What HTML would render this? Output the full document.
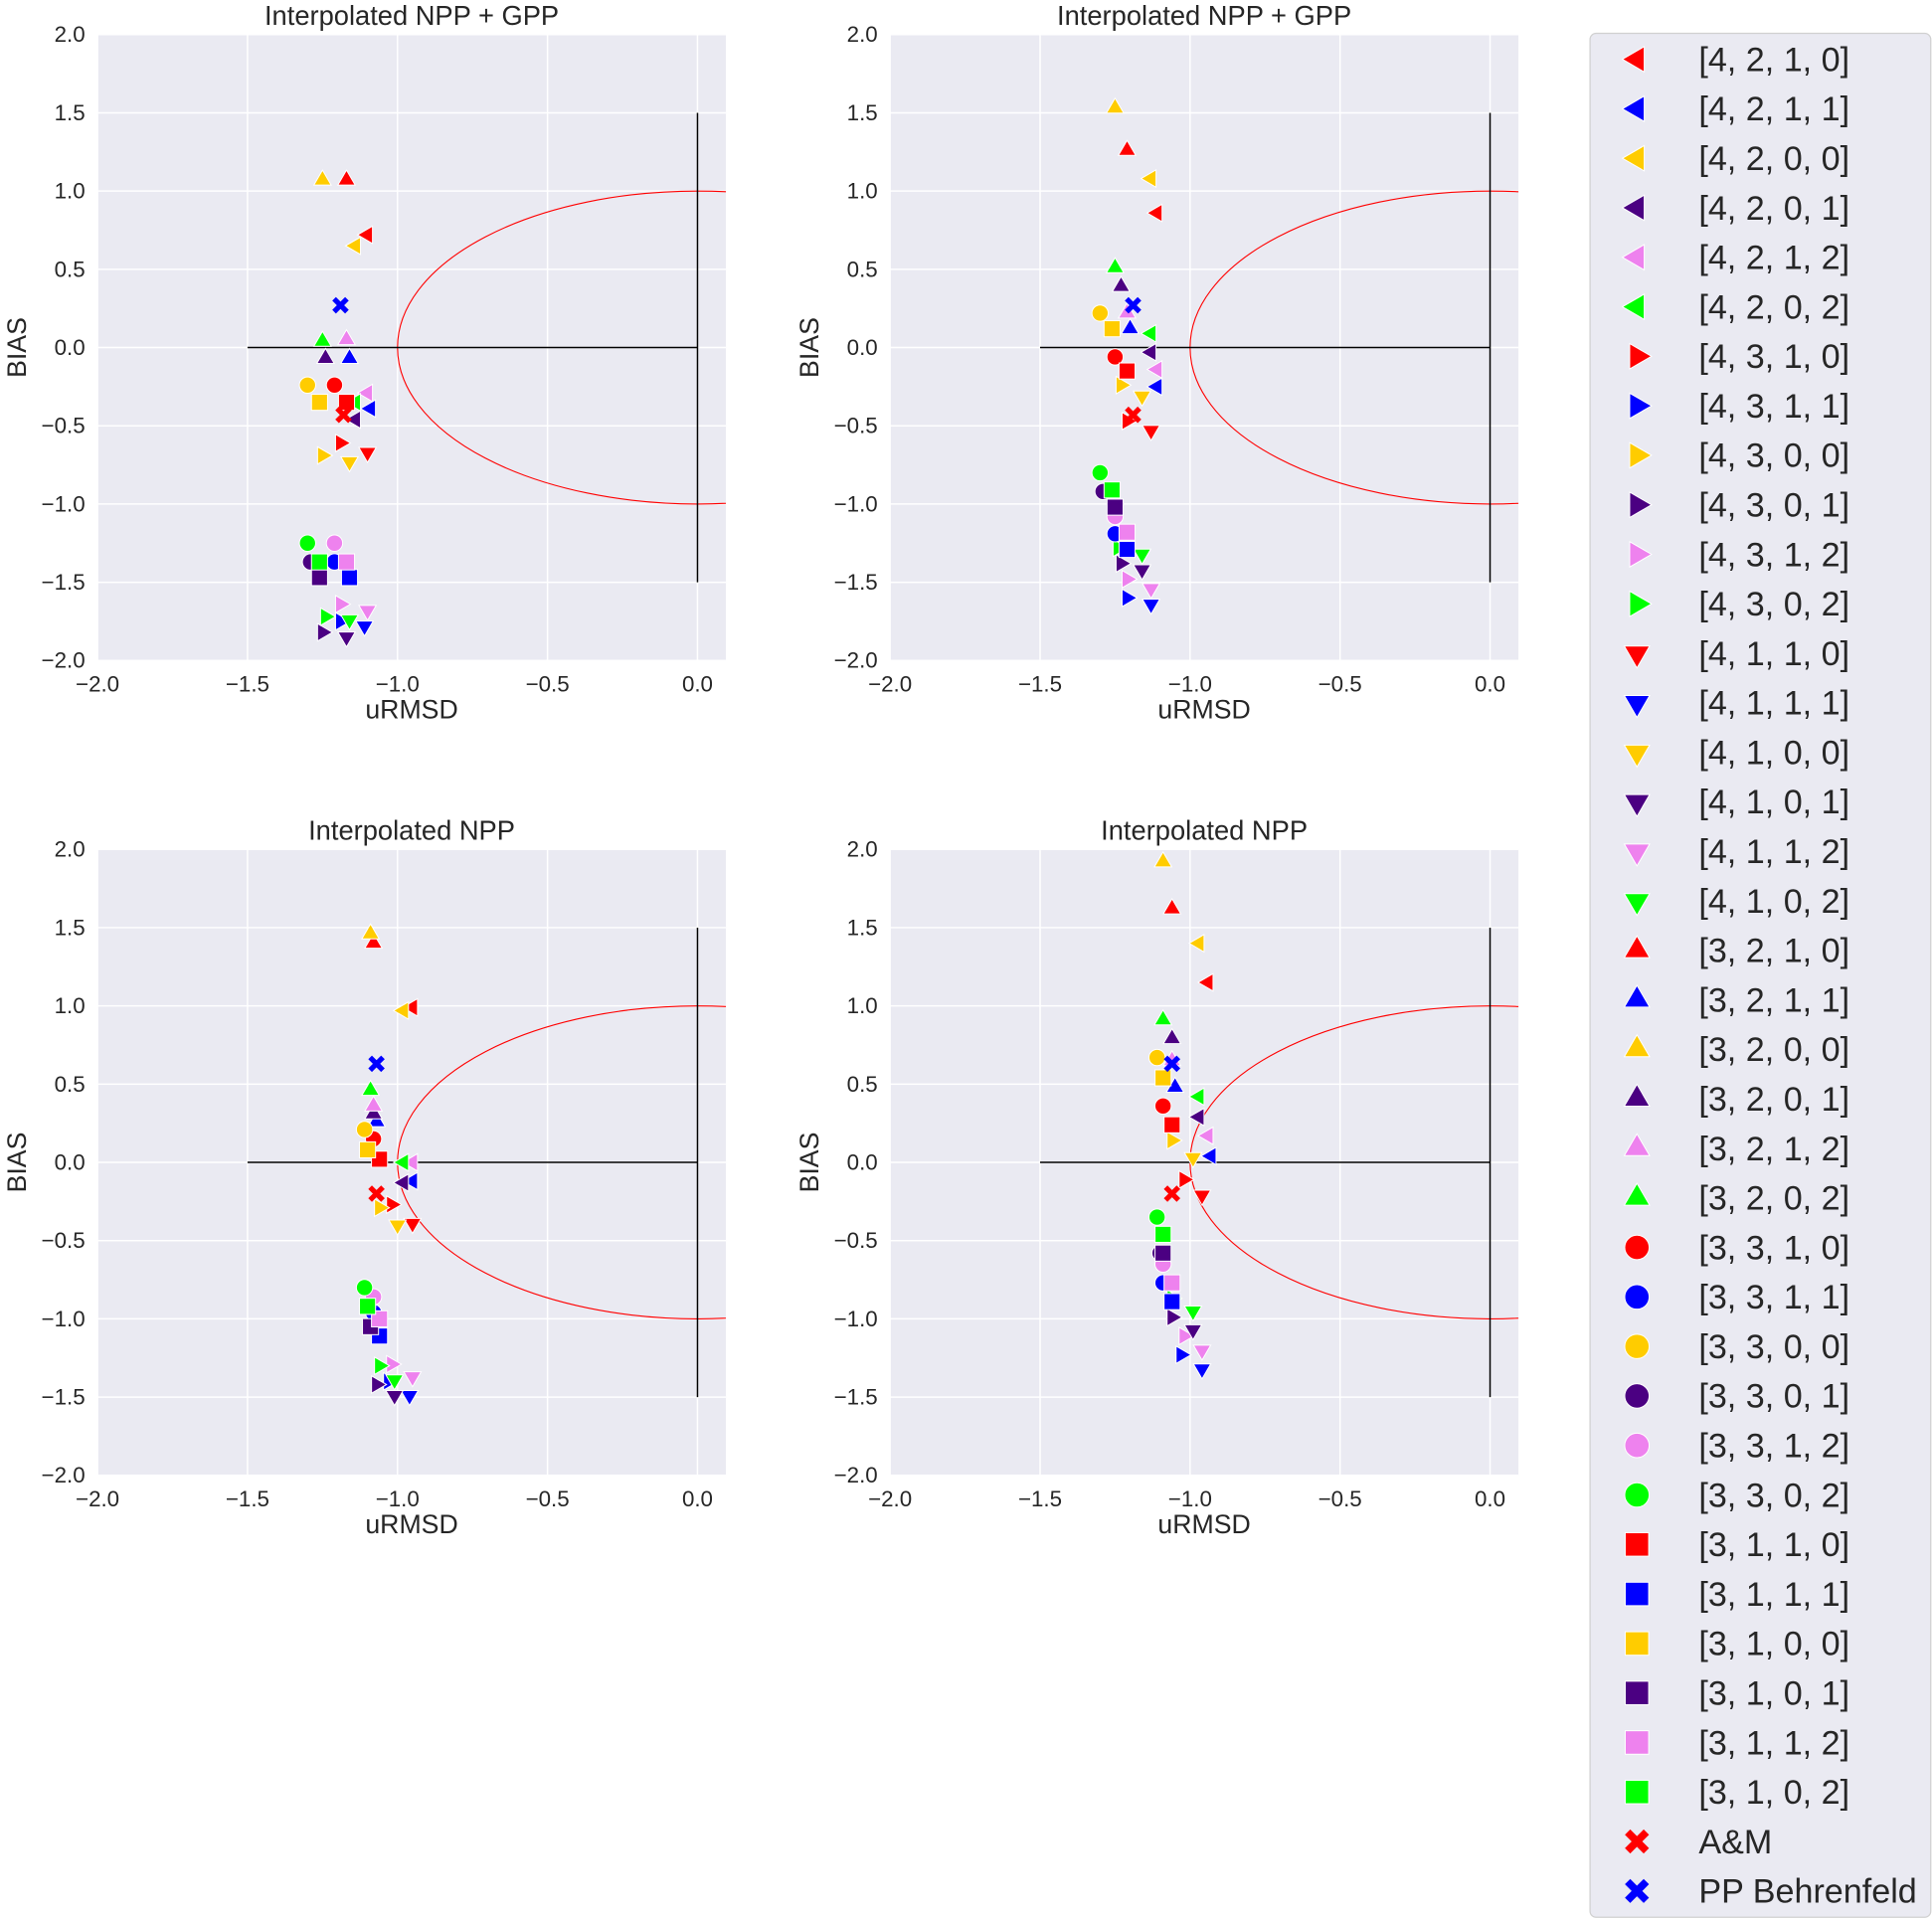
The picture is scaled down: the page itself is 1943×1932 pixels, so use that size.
<!DOCTYPE html>
<html><head><meta charset="utf-8"><style>
html,body{margin:0;padding:0;background:#fff;}
svg{display:block;font-family:"Liberation Sans",sans-serif;}
</style></head><body>
<svg id="chart" width="1943" height="1932" viewBox="0 0 1565 1556" preserveAspectRatio="none" xmlns="http://www.w3.org/2000/svg"></svg>
<script>
const seriesLabels=["[4, 2, 1, 0]","[4, 2, 1, 1]","[4, 2, 0, 0]","[4, 2, 0, 1]","[4, 2, 1, 2]","[4, 2, 0, 2]","[4, 3, 1, 0]","[4, 3, 1, 1]","[4, 3, 0, 0]","[4, 3, 0, 1]","[4, 3, 1, 2]","[4, 3, 0, 2]","[4, 1, 1, 0]","[4, 1, 1, 1]","[4, 1, 0, 0]","[4, 1, 0, 1]","[4, 1, 1, 2]","[4, 1, 0, 2]","[3, 2, 1, 0]","[3, 2, 1, 1]","[3, 2, 0, 0]","[3, 2, 0, 1]","[3, 2, 1, 2]","[3, 2, 0, 2]","[3, 3, 1, 0]","[3, 3, 1, 1]","[3, 3, 0, 0]","[3, 3, 0, 1]","[3, 3, 1, 2]","[3, 3, 0, 2]","[3, 1, 1, 0]","[3, 1, 1, 1]","[3, 1, 0, 0]","[3, 1, 0, 1]","[3, 1, 1, 2]","[3, 1, 0, 2]","A&M","PP Behrenfeld"];
const panelTitles=["Interpolated NPP + GPP","Interpolated NPP + GPP","Interpolated NPP","Interpolated NPP"];
const xTicks=[-2.0,-1.5,-1.0,-0.5,0.0];
const yTicks=[2.0,1.5,1.0,0.5,0.0,-0.5,-1.0,-1.5,-2.0];
const tlX=[-1.10,-1.09,-1.14,-1.14,-1.10,-1.14,-1.19,-1.19,-1.25,-1.25,-1.19,-1.24,-1.10,-1.11,-1.16,-1.17,-1.10,-1.16,-1.17,-1.16,-1.25,-1.24,-1.17,-1.25,-1.21,-1.21,-1.30,-1.29,-1.21,-1.30,-1.17,-1.16,-1.26,-1.26,-1.17,-1.26,-1.18,-1.19];
const tlY=[0.72,-0.39,0.65,-0.46,-0.29,-0.35,-0.61,-1.75,-0.69,-1.82,-1.64,-1.72,-0.67,-1.78,-0.73,-1.85,-1.68,-1.74,1.07,-0.07,1.07,-0.07,0.05,0.04,-0.24,-1.37,-0.24,-1.37,-1.25,-1.25,-0.35,-1.47,-0.35,-1.47,-1.37,-1.37,-0.43,0.27];
const trX=[-1.11,-1.11,-1.13,-1.13,-1.11,-1.13,-1.21,-1.21,-1.23,-1.23,-1.21,-1.24,-1.13,-1.13,-1.16,-1.16,-1.13,-1.16,-1.21,-1.20,-1.25,-1.23,-1.21,-1.25,-1.25,-1.25,-1.30,-1.29,-1.25,-1.30,-1.21,-1.21,-1.26,-1.25,-1.21,-1.26,-1.19,-1.19];
const trY=[0.86,-0.25,1.08,-0.03,-0.14,0.09,-0.47,-1.60,-0.24,-1.38,-1.48,-1.28,-0.53,-1.64,-0.31,-1.42,-1.54,-1.32,1.26,0.12,1.53,0.39,0.22,0.51,-0.06,-1.19,0.22,-0.92,-1.08,-0.80,-0.15,-1.29,0.12,-1.02,-1.18,-0.91,-0.43,0.27];
const blX=[-0.95,-0.95,-0.98,-0.98,-0.95,-0.98,-1.02,-1.03,-1.06,-1.07,-1.02,-1.06,-0.95,-0.96,-1.00,-1.01,-0.95,-1.01,-1.08,-1.07,-1.09,-1.08,-1.08,-1.09,-1.08,-1.08,-1.11,-1.10,-1.08,-1.11,-1.06,-1.06,-1.10,-1.09,-1.06,-1.10,-1.07,-1.07];
const blY=[0.99,-0.12,0.97,-0.13,0.00,0.00,-0.27,-1.40,-0.29,-1.42,-1.29,-1.30,-0.39,-1.49,-0.40,-1.49,-1.37,-1.39,1.40,0.26,1.46,0.31,0.36,0.46,0.15,-0.96,0.21,-0.92,-0.86,-0.80,0.02,-1.11,0.08,-1.05,-1.00,-0.92,-0.20,0.63];
const brX=[-0.94,-0.93,-0.97,-0.97,-0.94,-0.97,-1.02,-1.03,-1.06,-1.06,-1.02,-1.06,-0.96,-0.96,-0.99,-0.99,-0.96,-0.99,-1.06,-1.05,-1.09,-1.06,-1.06,-1.09,-1.09,-1.09,-1.11,-1.10,-1.09,-1.11,-1.06,-1.06,-1.09,-1.09,-1.06,-1.09,-1.06,-1.06];
const brY=[1.15,0.04,1.40,0.29,0.17,0.42,-0.11,-1.23,0.14,-0.99,-1.11,-0.87,-0.21,-1.32,0.03,-1.07,-1.20,-0.95,1.62,0.48,1.92,0.79,0.65,0.91,0.36,-0.77,0.67,-0.58,-0.65,-0.35,0.24,-0.89,0.54,-0.58,-0.77,-0.46,-0.20,0.63];
const panelX=[tlX,trX,blX,brX];
const panelY=[tlY,trY,blY,brY];

const NS="http://www.w3.org/2000/svg";
const svg=document.getElementById('chart');
const colorCycle=["#ff0000","#0000ff","#ffcc00","#4b0082","#ee82ee","#00ff00"];
const shapeCycle=["left","right","down","up","circle","square"];
function styleOf(i){
  if(i===36) return {shape:"x",color:"#ff0000"};
  if(i===37) return {shape:"x",color:"#0000ff"};
  return {shape:shapeCycle[Math.floor(i/6)],color:colorCycle[i%6]};
}
function mk(tag,attrs,parent){const e=document.createElementNS(NS,tag);for(const k in attrs)e.setAttribute(k,attrs[k]);(parent||svg).appendChild(e);return e;}
function marker(parent,shape,color,cx,cy,s){
  let e;
  if(shape==="circle") e=mk('circle',{cx:cx,cy:cy,r:s*0.55},parent);
  else if(shape==="square") e=mk('rect',{x:cx-s*0.5,y:cy-s*0.5,width:s,height:s},parent);
  else if(shape==="x"){const a=s*0.4,w=s*0.2;
    e=mk('path',{d:`M${cx-a} ${cy-a}L${cx+a} ${cy+a}M${cx-a} ${cy+a}L${cx+a} ${cy-a}`,stroke:color,'stroke-width':w*1.6,'stroke-linecap':'butt',fill:'none'},parent);return e;}
  else{const r=s*0.62;let pts;
    if(shape==="up") pts=[[0,-r],[r*0.87,r*0.5],[-r*0.87,r*0.5]];
    else if(shape==="down") pts=[[0,r],[r*0.87,-r*0.5],[-r*0.87,-r*0.5]];
    else if(shape==="left") pts=[[-r,0],[r*0.5,-r*0.87],[r*0.5,r*0.87]];
    else pts=[[r,0],[-r*0.5,-r*0.87],[-r*0.5,r*0.87]];
    e=mk('polygon',{points:pts.map(p=>(cx+p[0])+','+(cy+p[1])).join(' ')},parent);}
  e.setAttribute('fill',color);e.setAttribute('stroke','#fff');e.setAttribute('stroke-width','0.8');
  return e;
}
const panels=[{x0:79,y0:28},{x0:721,y0:28},{x0:79,y0:688},{x0:721,y0:688}];
const W=509,H=507;
panels.forEach((p,pi)=>{
  const g=mk('g',{});
  
  
  const sx=v=>p.x0+(v+2)*243;
  const sy=v=>p.y0+(2-v)*126.75;
  const bg=mk('rect',{x:p.x0,y:p.y0,width:W,height:H,fill:'#eaeaf2'},g);
  
  
  const cid='clip'+pi;
  const cp=mk('clipPath',{id:cid},g);mk('rect',{x:p.x0,y:p.y0,width:W,height:H},cp);
  xTicks.forEach(t=>{mk('line',{x1:sx(t),x2:sx(t),y1:p.y0,y2:p.y0+H,stroke:'#fff','stroke-width':1.2},g);
    const tx=mk('text',{x:sx(t),y:p.y0+H+25,'text-anchor':'middle','font-size':18,fill:'#262626'},g);
    tx.textContent=(t<0?'\u2212':'')+Math.abs(t).toFixed(1);
    
    });
  yTicks.forEach(t=>{mk('line',{x1:p.x0,x2:p.x0+W,y1:sy(t),y2:sy(t),stroke:'#fff','stroke-width':1.2},g);
    const ty=mk('text',{x:p.x0-10,y:sy(t)+6,'text-anchor':'end','font-size':18,fill:'#262626'},g);
    ty.textContent=(t<0?'\u2212':'')+Math.abs(t).toFixed(1);
    
    });
  const cg=mk('g',{'clip-path':`url(#${cid})`},g);
  const el=mk('ellipse',{cx:sx(0),cy:sy(0),rx:243,ry:126.75,fill:'none',stroke:'#ff0000','stroke-width':0.9},cg);
  
  
  const hl=mk('line',{x1:sx(-1.5),x2:sx(0),y1:sy(0),y2:sy(0),stroke:'#000','stroke-width':1.2},cg);
  
  
  const vl=mk('line',{x1:sx(0),x2:sx(0),y1:sy(1.5),y2:sy(-1.5),stroke:'#000','stroke-width':1.2},cg);
  
  
  const xs=panelX[pi],ys=panelY[pi];
  for(let i=0;i<seriesLabels.length;i++){
    const st=styleOf(i);
    const m=marker(cg,st.shape,st.color,sx(xs[i]),sy(ys[i]),st.shape==="circle"?12:13);
    
    
  }
  const ti=mk('text',{x:p.x0+W/2,y:p.y0-8,'text-anchor':'middle','font-size':22,fill:'#262626'},g);
  ti.textContent=panelTitles[pi];
  
  
  const xl=mk('text',{x:p.x0+W/2,y:p.y0+H+47,'text-anchor':'middle','font-size':21.5,fill:'#262626'},g);
  xl.textContent='uRMSD';
  
  
  const yx=p.x0-58,yy=p.y0+H/2;
  const yl=mk('text',{x:yx,y:yy,'text-anchor':'middle','font-size':21.5,fill:'#262626',transform:`rotate(-90 ${yx} ${yy})`},g);
  yl.textContent='BIAS';
  
  
});
const lg=mk('g',{});


mk('rect',{x:1288,y:27,width:276,height:1526,rx:5,fill:'#eaeaf2',stroke:'#d0d0d0','stroke-width':1},lg);
seriesLabels.forEach((lab,i)=>{
  const y=48+i*40.1;const st=styleOf(i);
  const e=mk('g',{},lg);
  
  
  marker(e,st.shape,st.color,1326,y,st.shape==="circle"?18:19);
  const t=mk('text',{x:1376,y:y+9.5,'font-size':27.5,fill:'#262626'},e);
  t.textContent=lab;
});
</script>
</body></html>
